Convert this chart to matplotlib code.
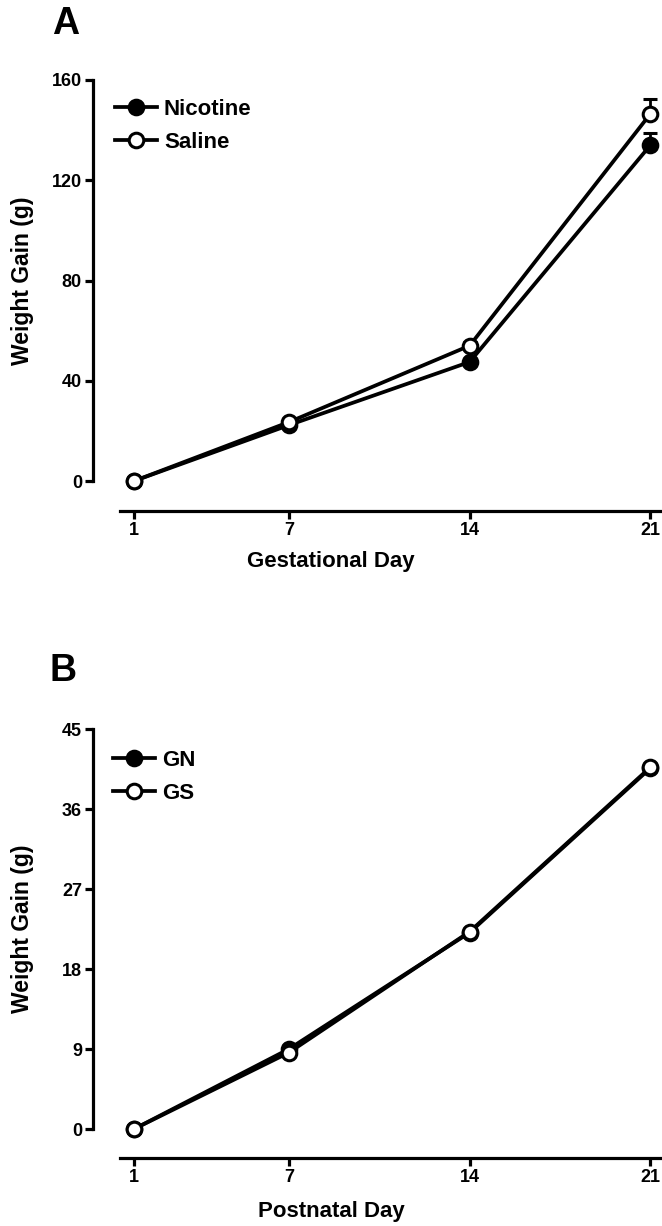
# Weight gain across gestation (A) and postnatal period (B)
import numpy as np
import matplotlib
matplotlib.use("Agg")
import matplotlib.pyplot as plt

plt.rcParams['font.family'] = ['Liberation Sans', 'DejaVu Sans']
plt.rcParams['font.weight'] = 'bold'

# Panel A data
days = [1, 7, 14, 21]
nicotine = [0, 22.3, 47.5, 134]
nicotine_err = [0, 0.8, 1.2, 5]
saline = [0, 23.5, 54, 146.5]
saline_err = [0, 0.8, 1.5, 6]

# Panel B data
gn = [0, 9.0, 22.1, 40.6]
gs = [0, 8.6, 22.2, 40.7]

yticks_a = [0, 40, 80, 120, 160]
yticks_b = [0, 9, 18, 27, 36, 45]

fig = plt.figure(figsize=(6.62, 12.26), dpi=100)
W, H = 662, 1226
PT = 72 / 100  # points per pixel


def make_ax(top_px, bottom_px):
    return fig.add_axes([93 / W, 1 - bottom_px / H, (662 - 93) / W, (bottom_px - top_px) / H])


def style(ax, yticks, xaxis_offset_px, xlabel, xlabel_y):
    ax.set_xlim(-0.59, 21.45)
    ax.set_ylim(yticks[0], yticks[-1])
    for s in ['top', 'right']:
        ax.spines[s].set_visible(False)
    for s in ['left', 'bottom']:
        ax.spines[s].set_linewidth(2.3)
    ax.spines['bottom'].set_position(('outward', xaxis_offset_px * PT))
    ax.spines['bottom'].set_bounds(0.46, 21.45)
    ax.set_xticks(days)
    ax.set_yticks(yticks)
    ax.tick_params(direction='out', length=6, width=2.3, labelsize=13, pad=2)
    for lab in ax.get_xticklabels() + ax.get_yticklabels():
        lab.set_fontweight('bold')
    fig.text(331 / W, 1 - xlabel_y / H, xlabel, fontsize=16, fontweight='bold',
             ha='center', va='center')
    ax.set_ylabel('Weight Gain (g)', fontsize=16.5, fontweight='bold')
    ax.yaxis.set_label_coords(-(93 - 34) / (662 - 93), 0.5)


line_kw = dict(color='black', lw=2.7, markersize=10.5, markeredgewidth=2.2, clip_on=False)
leg_kw = dict(loc='upper left', frameon=False, prop={'weight': 'bold', 'size': 16},
              handlelength=1.9, handletextpad=0.3, labelspacing=0.55,
              borderpad=0, borderaxespad=0)

# Panel A
ax1 = make_ax(80, 481)
ax1.errorbar(days, nicotine, yerr=[np.zeros(4), nicotine_err], marker='o',
             markerfacecolor='black', capsize=5, elinewidth=2, capthick=2,
             label='Nicotine', zorder=3, **line_kw)
ax1.errorbar(days, saline, yerr=[np.zeros(4), saline_err], marker='o',
             markerfacecolor='white', capsize=5, elinewidth=2, capthick=2,
             label='Saline', zorder=4, **line_kw)
style(ax1, yticks_a, 30, 'Gestational Day', 561)
h, l = ax1.get_legend_handles_labels()
h = [x[0] for x in h]
ax1.legend(h, l, bbox_to_anchor=(115 / W, 1 - 99 / H),
           bbox_transform=fig.transFigure, **leg_kw)
fig.text(66 / W, 1 - 24 / H, 'A', fontsize=27, fontweight='bold', ha='center', va='center')

# Panel B
ax2 = make_ax(729, 1129)
ax2.plot(days, gn, marker='o', markerfacecolor='black', label='GN', zorder=3, **line_kw)
ax2.plot(days, gs, marker='o', markerfacecolor='white', label='GS', zorder=4, **line_kw)
style(ax2, yticks_b, 29, 'Postnatal Day', 1211)
ax2.legend(bbox_to_anchor=(113 / W, 1 - 750 / H),
           bbox_transform=fig.transFigure, **leg_kw)
fig.text(63 / W, 1 - 671 / H, 'B', fontsize=27, fontweight='bold', ha='center', va='center')

fig.savefig('out.png', dpi=100)
